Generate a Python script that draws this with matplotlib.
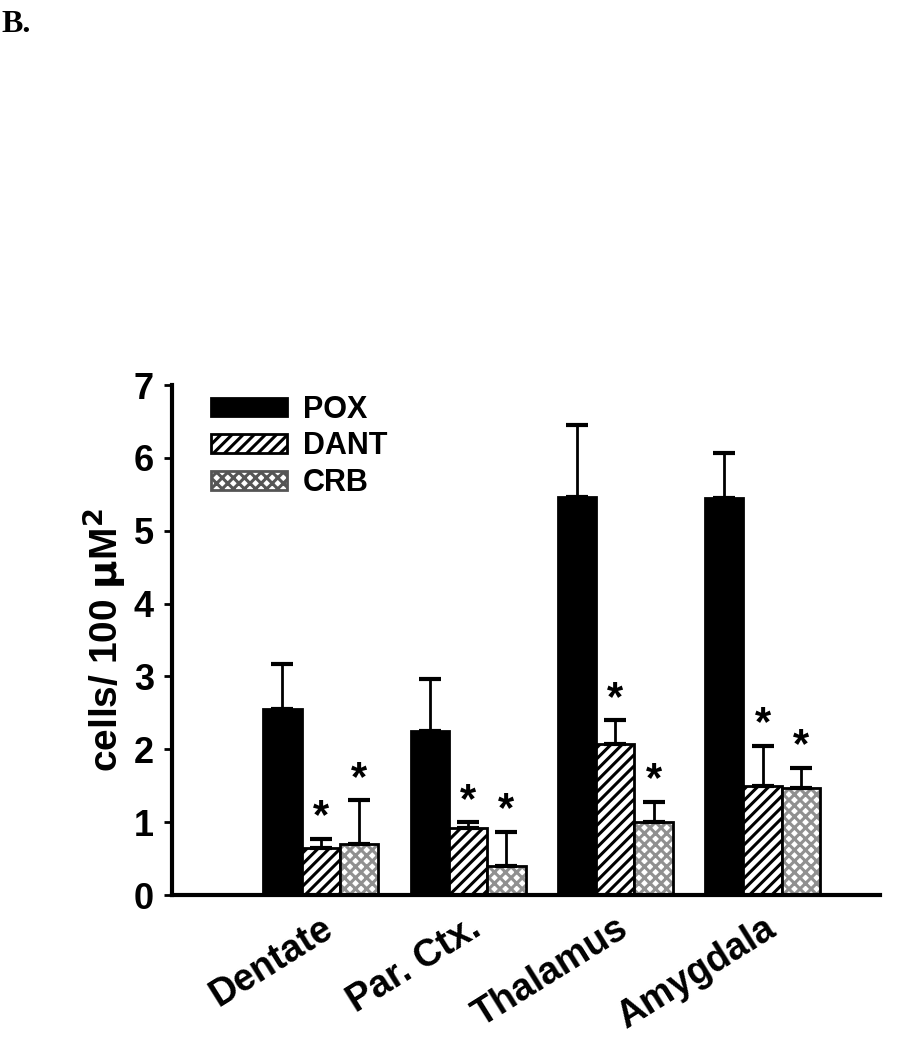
import matplotlib
matplotlib.use("Agg")
import matplotlib.pyplot as plt
import numpy as np
from matplotlib.patches import Patch

regions = ["Dentate", "Par. Ctx.", "Thalamus", "Amygdala"]
series = ["POX", "DANT", "CRB"]
pox = [2.55, 2.25, 5.47, 5.45]
pox_err = [0.62, 0.72, 0.98, 0.62]
dant = [0.65, 0.92, 2.07, 1.50]
dant_err = [0.12, 0.08, 0.33, 0.55]
crb = [0.70, 0.40, 1.00, 1.47]
crb_err = [0.60, 0.47, 0.28, 0.28]
sig_dant = [True, True, True, True]
sig_crb = [True, True, True, True]
y_ticks = [0, 1, 2, 3, 4, 5, 6, 7]

plt.rcParams['font.family'] = ['Liberation Sans', 'DejaVu Sans']
plt.rcParams['hatch.linewidth'] = 2.2

fig = plt.figure(figsize=(9.2, 10.5), dpi=100)
ax = fig.add_axes([0.187, 0.1476, 0.770, 0.4857])

x = np.arange(len(regions))
w = 0.26
vals = [pox, dant, crb]
errs = [pox_err, dant_err, crb_err]
offs = [-w, 0, w]

# POX
ax.bar(x + offs[0], pox, w, color='black', edgecolor='black', linewidth=2)
# DANT
ax.bar(x + offs[1], dant, w, color='white', edgecolor='black', hatch='///', linewidth=2)
# CRB: gray crosshatch then black outline
ax.bar(x + offs[2], crb, w, color='white', edgecolor='#909090', hatch='xxx', linewidth=0)
ax.bar(x + offs[2], crb, w, color='none', edgecolor='black', linewidth=2)

for v, e, o in zip(vals, errs, offs):
    ax.errorbar(x + o, v, yerr=[np.zeros(len(v)), e], fmt='none', ecolor='black',
                elinewidth=2, capsize=8, capthick=3)

for i in range(len(regions)):
    if sig_dant[i]:
        ax.text(x[i] + offs[1], dant[i] + dant_err[i] + 0.02, '*', ha='center', va='bottom',
                fontsize=30, fontweight='bold')
    if sig_crb[i]:
        ax.text(x[i] + offs[2], crb[i] + crb_err[i] + 0.02, '*', ha='center', va='bottom',
                fontsize=30, fontweight='bold')

ax.set_ylim(0, 7)
ax.set_xlim(-1.01, 3.8)
ax.set_yticks(y_ticks)
ax.set_yticklabels([str(t) for t in y_ticks], fontsize=26, fontweight='bold')
ax.set_xticks(x)
ax.set_xticklabels(regions, rotation=32, ha='right', rotation_mode='anchor',
                   fontsize=27, fontweight='bold')
ax.tick_params(axis='x', length=0, pad=11)
ax.tick_params(axis='y', length=6, width=2, direction='out', pad=7)
for s in ['top', 'right']:
    ax.spines[s].set_visible(False)
for s in ['left', 'bottom']:
    ax.spines[s].set_linewidth(3)

ax.set_ylabel(r'cells/ 100 $\mathbf{\mu}$M$^\mathbf{2}$', fontsize=28, fontweight='bold', labelpad=4)

handles = [Patch(facecolor='black', edgecolor='black', linewidth=2),
           Patch(facecolor='white', edgecolor='black', hatch='///', linewidth=2),
           Patch(facecolor='white', edgecolor='#555555', hatch='xxx', linewidth=2)]
leg = ax.legend(handles, series, loc='upper left', bbox_to_anchor=(0.016, 1.035),
                frameon=False, handlelength=2.5, handleheight=0.55, labelspacing=0.22,
                handletextpad=0.5, prop={'size': 22, 'weight': 'bold'})

fig.text(0.002, 0.99, 'B.', family=['Liberation Serif', 'DejaVu Serif'], fontsize=23,
         fontweight='bold', ha='left', va='top')

fig.savefig('out.png', dpi=100)
